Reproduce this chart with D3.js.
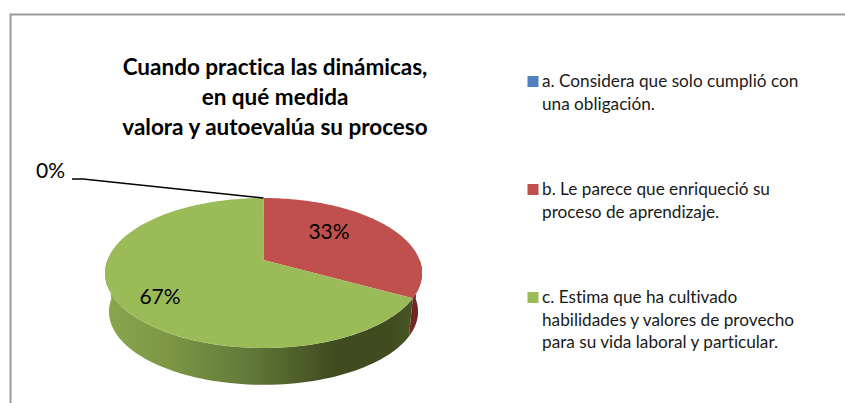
<!DOCTYPE html>
<html>
<head>
<meta charset="utf-8">
<style>
  html, body { margin: 0; padding: 0; background: #fff; }
  svg { display: block; }
  text { font-family: Lato, "Open Sans", sans-serif; fill: #000; font-variant-ligatures: none; }
  .title { font-weight: bold; font-size: 22.5px; text-anchor: middle; }
  .legend text { font-size: 17.2px; fill: #1a1a1a; }
  .pct { font-size: 21px; }
</style>
<script src="https://d3js.org/d3.v7.min.js"></script>
</head>
<body>
<svg width="845" height="403"></svg>
<script>
// data
var categories = ["a", "b", "c"];
var values = [0, 33, 67];
var colors = ["#4f81bd", "#c0504d", "#9bbb59"];
var sideColors = ["#2c4a70", "#772423", null];
var titleLines = ["Cuando practica las dinámicas,", "en qué medida", "valora y autoevalúa su proceso"];
var legendLines = [
  ["a. Considera que solo cumplió con", "una obligación."],
  ["b. Le parece que enriqueció su", "proceso de aprendizaje."],
  ["c. Estima que ha cultivado", "habilidades y valores de provecho", "para su vida laboral y particular."]
];

var svg = d3.select("svg");

// chart frame, only top and left show
svg.append("path")
  .attr("d", "M845,14.5H10.5V403")
  .attr("fill", "none")
  .attr("stroke", "#9a9a9a")
  .attr("stroke-width", 2);

// title
svg.selectAll(".title").data(titleLines).enter().append("text")
  .attr("class", "title")
  .attr("x", 275)
  .attr("y", function(d, i) { return 75 + i * 30; })
  .text(function(d) { return d; });

// pie with a perspective tilt, the apex sits above the middle of the ellipse
var cx = 263.5, cy = 260;
var tilt = 0.1733, rx = 156.1, ry = 72.75;
var depth = 39, shrink = 0.975;

function project(a) {
  var u = Math.sin(a), v = -Math.cos(a), w = 1 - tilt * v;
  return [rx * u / w, ry * v / w];
}
function upperPoint(a) {
  var p = project(a);
  return [cx + p[0], cy + p[1]];
}
function lowerPoint(a) {
  var p = project(a);
  return [cx + p[0] * shrink, cy + p[1] * shrink + depth];
}

var pie = d3.pie().sort(null).value(function(d) { return d; });
var slices = pie(values);
var line = d3.line();

function angles(a0, a1) {
  return d3.range(0, 81).map(function(i) { return a0 + (a1 - a0) * i / 80; });
}

var defs = svg.append("defs");
var grad = defs.append("linearGradient")
  .attr("id", "greenSide")
  .attr("gradientUnits", "userSpaceOnUse")
  .attr("x1", cx - 160).attr("x2", cx + 160).attr("y1", 0).attr("y2", 0);
grad.selectAll("stop")
  .data([[0, "#8aa64e"], [0.2, "#7d9746"], [0.45, "#627a38"], [0.72, "#3f4c20"], [0.9, "#3f4c20"], [1, "#4d5c28"]])
  .enter().append("stop")
  .attr("offset", function(d) { return d[0]; })
  .attr("stop-color", function(d) { return d[1]; });

// side wall, only the front half is visible
var g = svg.append("g");
slices.forEach(function(s, i) {
  var a0 = Math.max(s.startAngle, Math.PI / 2), a1 = Math.min(s.endAngle, Math.PI * 1.5);
  if (a1 <= a0) return;
  var list = angles(a0, a1);
  var pts = list.map(upperPoint).concat(list.slice().reverse().map(lowerPoint));
  g.append("path")
    .attr("d", line(pts) + "Z")
    .attr("fill", sideColors[i] || "url(#greenSide)");
});

// top face
slices.forEach(function(s, i) {
  if (s.endAngle <= s.startAngle) return;
  var pts = [[cx, cy]].concat(angles(s.startAngle, s.endAngle).map(upperPoint));
  g.append("path")
    .attr("d", line(pts) + "Z")
    .attr("fill", colors[i]);
});

// percent labels
var total = d3.sum(values);
function pct(d) { return Math.round(d / total * 100) + "%"; }
var labelPos = [[36, 178], [329, 239], [160, 304]];
svg.selectAll(".pct").data(values).enter().append("text")
  .attr("class", "pct")
  .attr("x", function(d, i) { return labelPos[i][0]; })
  .attr("y", function(d, i) { return labelPos[i][1]; })
  .attr("text-anchor", function(d, i) { return i ? "middle" : "start"; })
  .text(pct);

// leader line to the empty slice
var tip = upperPoint(slices[0].startAngle);
svg.append("path")
  .attr("d", line([[72, 179], [83, 179], tip]))
  .attr("fill", "none")
  .attr("stroke", "#000")
  .attr("stroke-width", 1.4);

// legend
var legendY = [87, 195, 303];
var legend = svg.selectAll(".legend").data(categories).enter().append("g")
  .attr("class", "legend")
  .attr("transform", function(d, i) { return "translate(0," + legendY[i] + ")"; });
legend.append("rect")
  .attr("x", 527.5).attr("y", -11)
  .attr("width", 11).attr("height", 11)
  .attr("fill", function(d, i) { return colors[i]; });
legend.each(function(d, i) {
  d3.select(this).selectAll("text").data(legendLines[i]).enter().append("text")
    .attr("x", 542)
    .attr("y", function(t, j) { return j * 22.7; })
    .text(function(t) { return t; });
});
</script>
</body>
</html>
